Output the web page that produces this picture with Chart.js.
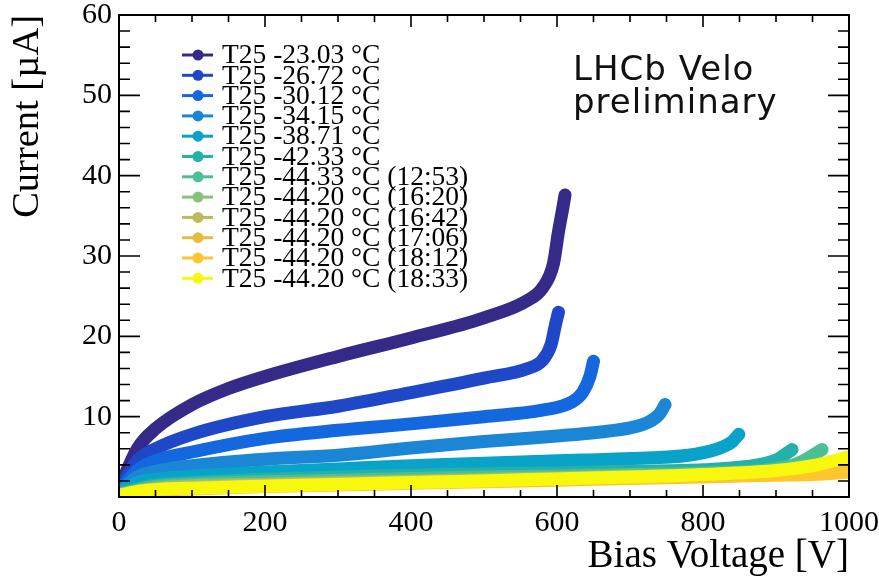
<!DOCTYPE html>
<html lang="en">
<head>
<meta charset="UTF-8">
<title>LHCb Velo IV curves</title>
<script src="https://cdn.jsdelivr.net/npm/chart.js@4.4.0/dist/chart.umd.min.js"></script>
<style>
  html, body { margin: 0; padding: 0; background: #fff; }
  #wrap { width: 879px; height: 583px; }
</style>
</head>
<body>
<div id="wrap"><canvas id="chart" width="879" height="583"></canvas></div>
<script>
// series names (legend order)
const seriesNames = [
  'T25 -23.03 °C', 'T25 -26.72 °C', 'T25 -30.12 °C', 'T25 -34.15 °C',
  'T25 -38.71 °C', 'T25 -42.33 °C', 'T25 -44.33 °C (12:53)', 'T25 -44.20 °C (16:20)',
  'T25 -44.20 °C (16:42)', 'T25 -44.20 °C (17:06)', 'T25 -44.20 °C (18:12)', 'T25 -44.20 °C (18:33)'
];
const seriesColors = [
  '#352a87', '#1f48c8', '#1468df', '#1a86d5', '#09a3c9', '#22b2ab',
  '#4cbf95', '#86c37a', '#bdbb5c', '#e6bc41', '#fdc52e', '#f8f80f'
];

// bias voltage [V] / current [uA]
const V1 = [0, 25, 50, 100, 150, 200, 300, 400, 500, 560, 580, 595, 602, 607, 611];
const I1 = [1.0, 6.0, 8.5, 11.5, 13.5, 15.0, 17.5, 19.8, 22.3, 24.5, 26.0, 29.0, 33.0, 35.5, 37.6];
const V2 = [0, 25, 50, 100, 200, 300, 400, 500, 560, 580, 592, 598, 602];
const I2 = [0.8, 4.5, 6.0, 7.8, 10.0, 11.3, 13.0, 14.8, 16.0, 17.0, 19.0, 21.5, 23.0];
const V3 = [0, 25, 50, 100, 200, 300, 400, 500, 580, 620, 635, 645, 650];
const I3 = [0.7, 3.3, 4.5, 5.6, 7.3, 8.3, 9.1, 10.0, 10.8, 11.8, 13.0, 15.0, 16.9];
const V4 = [0, 25, 50, 100, 200, 300, 400, 500, 600, 660, 700, 725, 740, 748];
const I4 = [0.6, 2.5, 3.2, 3.9, 4.7, 5.2, 6.1, 6.9, 7.6, 8.1, 8.6, 9.3, 10.3, 11.5];
const V5 = [0, 25, 50, 100, 200, 300, 400, 500, 600, 700, 780, 820, 840, 849];
const I5 = [0.5, 1.8, 2.2, 2.6, 3.1, 3.5, 3.9, 4.2, 4.5, 4.8, 5.2, 6.0, 6.9, 7.8];
const V6 = [0, 50, 100, 200, 300, 400, 500, 600, 700, 800, 860, 900, 922];
const I6 = [0.4, 1.5, 1.8, 2.2, 2.5, 2.7, 2.9, 3.0, 3.2, 3.4, 3.8, 4.6, 5.9];
const V7 = [0, 50, 100, 200, 300, 400, 500, 600, 700, 800, 880, 930, 963];
const I7 = [0.3, 1.3, 1.6, 1.9, 2.1, 2.3, 2.5, 2.6, 2.8, 3.0, 3.3, 4.2, 5.9];
const V8 = [0, 50, 100, 200, 300, 400, 500, 600, 700, 800, 900, 950, 1000];
const I8 = [0.3, 1.1, 1.4, 1.6, 1.8, 2.0, 2.2, 2.4, 2.6, 2.8, 3.2, 3.6, 4.2];
const V9 = [0, 50, 100, 200, 300, 400, 500, 600, 700, 800, 900, 950, 1000];
const I9 = [0.2, 1.0, 1.2, 1.5, 1.7, 1.9, 2.1, 2.3, 2.5, 2.7, 3.0, 3.4, 3.8];
const V10 = [0, 50, 100, 200, 300, 400, 500, 600, 700, 800, 900, 950, 1000];
const I10 = [0.2, 0.9, 1.1, 1.4, 1.6, 1.8, 2.0, 2.2, 2.4, 2.6, 2.8, 3.1, 3.4];
const V11 = [0, 50, 100, 200, 300, 400, 500, 600, 700, 800, 900, 950, 1000];
const I11 = [0.2, 0.8, 1.0, 1.3, 1.5, 1.7, 1.9, 2.1, 2.3, 2.5, 2.7, 2.8, 3.1];
const V12 = [0, 25, 50, 100, 200, 300, 400, 500, 600, 700, 800, 900, 950, 1000];
const I12 = [0.2, 0.7, 0.9, 1.1, 1.35, 1.55, 1.8, 2.0, 2.25, 2.5, 2.8, 3.3, 3.9, 5.0];

const allV = [V1, V2, V3, V4, V5, V6, V7, V8, V9, V10, V11, V12];
const allI = [I1, I2, I3, I4, I5, I6, I7, I8, I9, I10, I11, I12];

const xTicks = [0, 200, 400, 600, 800, 1000];
const yTicks = [0, 10, 20, 30, 40, 50, 60];

const serif = "'Liberation Serif', 'DejaVu Serif', serif";

const datasets = seriesNames.map((name, k) => ({
  label: name,
  data: allV[k].map((v, j) => ({ x: v, y: allI[k][j] })),
  borderColor: seriesColors[k],
  backgroundColor: seriesColors[k],
  borderWidth: 13,
  borderCapStyle: 'round',
  borderJoinStyle: 'round',
  pointRadius: 0,
  cubicInterpolationMode: 'monotone',
  order: seriesNames.length - k   // later series painted on top, like the original
}));

// ROOT-like frame with inward ticks on all four sides
const framePlugin = {
  id: 'frame',
  afterDatasetsDraw(chart) {
    const { ctx, chartArea: a, scales: { x, y } } = chart;
    ctx.save();
    ctx.strokeStyle = '#000';
    ctx.lineWidth = 2;
    ctx.strokeRect(a.left, a.top, a.right - a.left, a.bottom - a.top);
    ctx.lineWidth = 1.6;
    ctx.beginPath();
    for (let v = 0; v <= 1000; v += 50) {
      const px = x.getPixelForValue(v);
      const len = v % 200 === 0 ? 12 : 7;
      ctx.moveTo(px, a.bottom); ctx.lineTo(px, a.bottom - len);
      ctx.moveTo(px, a.top); ctx.lineTo(px, a.top + len);
    }
    for (let c = 0; c <= 60; c += 2) {
      const py = y.getPixelForValue(c);
      const len = c % 10 === 0 ? 21 : 11;
      ctx.moveTo(a.left, py); ctx.lineTo(a.left + len, py);
      ctx.moveTo(a.right, py); ctx.lineTo(a.right - len, py);
    }
    ctx.stroke();
    ctx.restore();
  },
  afterDraw(chart) {
    const ctx = chart.ctx;
    ctx.save();
    // legend
    ctx.font = '27.5px ' + serif;
    ctx.textBaseline = 'middle';
    chart.data.datasets.forEach((ds, k) => {
      const yy = 55 + k * 20.3;
      ctx.strokeStyle = ds.borderColor;
      ctx.lineWidth = 3;
      ctx.beginPath(); ctx.moveTo(182, yy); ctx.lineTo(213, yy); ctx.stroke();
      ctx.fillStyle = ds.borderColor;
      ctx.beginPath(); ctx.arc(198, yy, 5.5, 0, Math.PI * 2); ctx.fill();
      ctx.fillStyle = '#000';
      ctx.fillText(ds.label, 222, yy + 1);
    });
    // label
    ctx.font = '34px "DejaVu Sans", sans-serif';
    ctx.letterSpacing = '1px';
    ctx.textBaseline = 'alphabetic';
    ctx.fillStyle = '#111';
    ctx.fillText('LHCb Velo', 573, 80);
    ctx.fillText('preliminary', 573, 113);
    ctx.restore();
  }
};

const ctx = document.getElementById('chart').getContext('2d');
new Chart(ctx, {
  type: 'line',
  data: { datasets },
  options: {
    responsive: false,
    animation: false,
    layout: { padding: { top: 15, right: 30, left: 0, bottom: 0 } },
    plugins: { legend: { display: false }, tooltip: { enabled: false } },
    scales: {
      x: {
        type: 'linear', min: 0, max: 1000,
        afterFit: s => { s.height = 86; s.paddingLeft = 0; s.paddingRight = 0; },
        afterBuildTicks: s => { s.ticks = xTicks.map(v => ({ value: v })); },
        grid: { display: false, drawTicks: false },
        border: { display: false },
        ticks: { color: '#000', font: { family: serif, size: 30 }, padding: 8, maxRotation: 0,
                 callback: v => String(v) },
        title: { display: true, text: 'Bias Voltage [V]', align: 'end', color: '#000',
                 font: { family: serif, size: 39 }, padding: { top: 0, bottom: 3 } }
      },
      y: {
        type: 'linear', min: 0, max: 60,
        afterFit: s => { s.width = 119; s.paddingTop = 0; s.paddingBottom = 0; },
        afterBuildTicks: s => { s.ticks = yTicks.map(v => ({ value: v })); },
        grid: { display: false, drawTicks: false },
        border: { display: false },
        ticks: { color: '#000', font: { family: serif, size: 30 }, padding: 7,
                 callback: v => (v === 0 ? '' : String(v)) },
        title: { display: true, text: 'Current [µA]', align: 'end', color: '#000',
                 font: { family: serif, size: 38.5 }, padding: { top: 5, bottom: 0 } }
      }
    }
  },
  plugins: [framePlugin]
});
</script>
</body>
</html>
